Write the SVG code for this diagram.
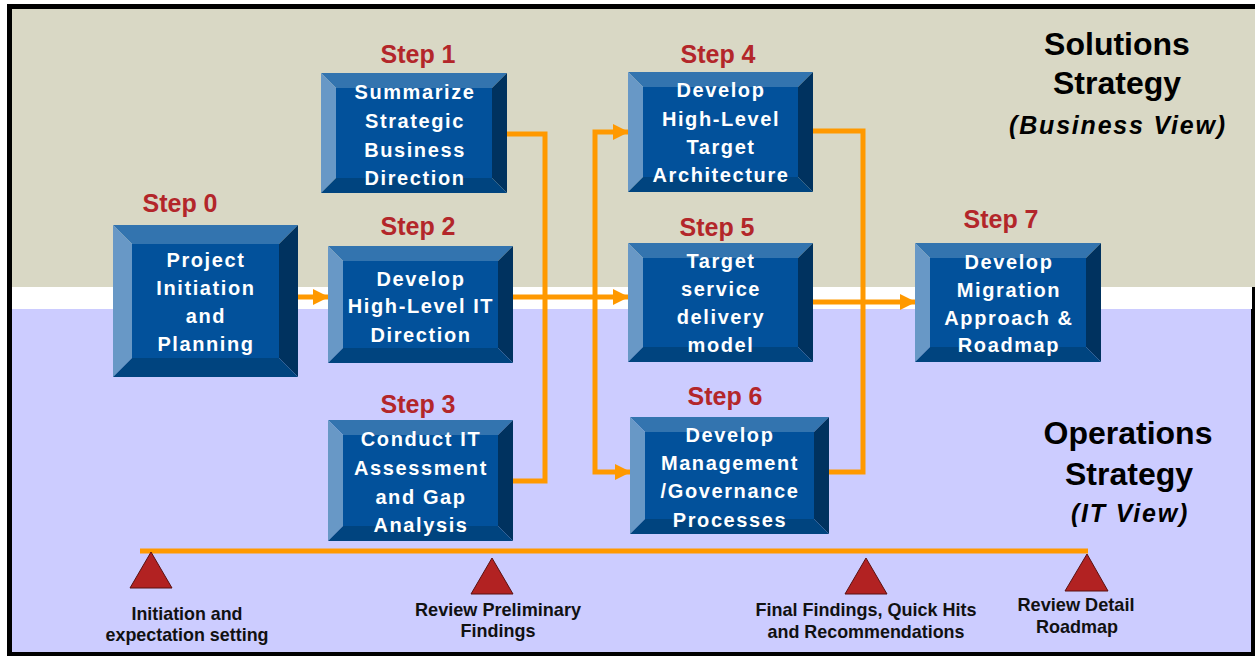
<svg xmlns="http://www.w3.org/2000/svg" width="1255" height="656" viewBox="0 0 1255 656">
<defs>
<style>
.tp{fill:#3374AF}.lf{fill:#6898C6}.rt{fill:#00325F}.bt{fill:#00447F}.fc{fill:#02519B}
.bx{font-family:"Liberation Sans",Arial,sans-serif;font-weight:bold;font-size:20px;fill:#FFFFFF;text-anchor:middle;letter-spacing:1.6px}
.st{font-family:"Liberation Sans",Arial,sans-serif;font-weight:bold;font-size:25px;fill:#B3262A;text-anchor:middle}
.ttl{font-family:"Liberation Sans",Arial,sans-serif;font-weight:bold;font-size:32px;fill:#000;text-anchor:middle}
.sub{font-family:"Liberation Sans",Arial,sans-serif;font-weight:bold;font-style:italic;font-size:25px;fill:#000;text-anchor:middle;letter-spacing:1.8px}
.ms{font-family:"Liberation Sans",Arial,sans-serif;font-weight:bold;font-size:19px;fill:#111;text-anchor:middle}
.cn{fill:none;stroke:#FF9900;stroke-width:5}
.tri{fill:#B22222;stroke:#5A1010;stroke-width:1}
</style>
<marker id="ah" markerUnits="userSpaceOnUse" markerWidth="16" markerHeight="16" viewBox="0 0 16 16" refX="15" refY="8" orient="auto">
<path d="M0,0 L16,8 L0,16 Z" fill="#FF9900"/>
</marker>
</defs>
<g id="background">
<rect x="0" y="0" width="1255" height="656" fill="#FFFFFF"/>
<rect x="7" y="4" width="1248" height="652" fill="#000000"/>
<rect x="12" y="9" width="1243" height="278" fill="#D9D8C5"/>
<rect x="12" y="287" width="1240" height="22" fill="#FFFFFF"/>
<rect x="12" y="309" width="1239" height="343" fill="#CCCCFF"/>
</g>
<g id="labels">
<text class="ttl" x="1117" y="55">Solutions</text>
<text class="ttl" x="1117" y="94">Strategy</text>
<text class="sub" x="1118" y="134">(Business View)</text>
<text class="ttl" x="1128" y="444">Operations</text>
<text class="ttl" x="1129" y="485">Strategy</text>
<text class="sub" x="1130" y="522">(IT View)</text>
</g>
<g id="connectors">
<path class="cn" d="M298,297 H328" marker-end="url(#ah)"/>
<path class="cn" d="M507,134 H545 V481 H513"/>
<path class="cn" d="M513,297 H628" marker-end="url(#ah)"/>
<path class="cn" d="M595,300 V132 H628" marker-end="url(#ah)"/>
<path class="cn" d="M595,300 V472 H630" marker-end="url(#ah)"/>
<path class="cn" d="M813,131 H863 V472 H829"/>
<path class="cn" d="M813,302 H915" marker-end="url(#ah)"/>
</g>
<g id="step0">
<text class="st" x="180" y="212">Step 0</text>
<path class="tp" d="M113,225 H298 L279,244 H132 Z"/>
<path class="lf" d="M113,225 L132,244 V358 L113,377 Z"/>
<path class="rt" d="M298,225 V377 L279,358 V244 Z"/>
<path class="bt" d="M113,377 L132,358 H279 L298,377 Z"/>
<rect class="fc" x="132" y="244" width="147" height="114"/>
<text class="bx" x="206" y="267">Project</text>
<text class="bx" x="206" y="295">Initiation</text>
<text class="bx" x="206" y="323">and</text>
<text class="bx" x="206" y="351">Planning</text>
</g>
<g id="step1">
<text class="st" x="418" y="63">Step 1</text>
<path class="tp" d="M321,73 H507 L492,88 H336 Z"/>
<path class="lf" d="M321,73 L336,88 V178 L321,193 Z"/>
<path class="rt" d="M507,73 V193 L492,178 V88 Z"/>
<path class="bt" d="M321,193 L336,178 H492 L507,193 Z"/>
<rect class="fc" x="336" y="88" width="156" height="90"/>
<text class="bx" x="415" y="99">Summarize</text>
<text class="bx" x="415" y="128">Strategic</text>
<text class="bx" x="415" y="157">Business</text>
<text class="bx" x="415" y="185">Direction</text>
</g>
<g id="step2">
<text class="st" x="418" y="235">Step 2</text>
<path class="tp" d="M328,246 H513 L498,261 H343 Z"/>
<path class="lf" d="M328,246 L343,261 V348 L328,363 Z"/>
<path class="rt" d="M513,246 V363 L498,348 V261 Z"/>
<path class="bt" d="M328,363 L343,348 H498 L513,363 Z"/>
<rect class="fc" x="343" y="261" width="155" height="87"/>
<text class="bx" x="421" y="286">Develop</text>
<text class="bx" x="421" y="313">High-Level IT</text>
<text class="bx" x="421" y="342">Direction</text>
</g>
<g id="step3">
<text class="st" x="418" y="413">Step 3</text>
<path class="tp" d="M328,420 H513 L498,435 H343 Z"/>
<path class="lf" d="M328,420 L343,435 V526 L328,541 Z"/>
<path class="rt" d="M513,420 V541 L498,526 V435 Z"/>
<path class="bt" d="M328,541 L343,526 H498 L513,541 Z"/>
<rect class="fc" x="343" y="435" width="155" height="91"/>
<text class="bx" x="421" y="446">Conduct IT</text>
<text class="bx" x="421" y="475">Assessment</text>
<text class="bx" x="421" y="504">and Gap</text>
<text class="bx" x="421" y="532">Analysis</text>
</g>
<g id="step4">
<text class="st" x="718" y="63">Step 4</text>
<path class="tp" d="M628,72 H813 L798,87 H643 Z"/>
<path class="lf" d="M628,72 L643,87 V177 L628,192 Z"/>
<path class="rt" d="M813,72 V192 L798,177 V87 Z"/>
<path class="bt" d="M628,192 L643,177 H798 L813,192 Z"/>
<rect class="fc" x="643" y="87" width="155" height="90"/>
<text class="bx" x="721" y="97">Develop</text>
<text class="bx" x="721" y="126">High-Level</text>
<text class="bx" x="721" y="154">Target</text>
<text class="bx" x="721" y="182">Architecture</text>
</g>
<g id="step5">
<text class="st" x="717" y="236">Step 5</text>
<path class="tp" d="M628,243 H813 L798,258 H643 Z"/>
<path class="lf" d="M628,243 L643,258 V347 L628,362 Z"/>
<path class="rt" d="M813,243 V362 L798,347 V258 Z"/>
<path class="bt" d="M628,362 L643,347 H798 L813,362 Z"/>
<rect class="fc" x="643" y="258" width="155" height="89"/>
<text class="bx" x="721" y="268">Target</text>
<text class="bx" x="721" y="296">service</text>
<text class="bx" x="721" y="324">delivery</text>
<text class="bx" x="721" y="352">model</text>
</g>
<g id="step6">
<text class="st" x="725" y="405">Step 6</text>
<path class="tp" d="M630,417 H829 L814,432 H645 Z"/>
<path class="lf" d="M630,417 L645,432 V519 L630,534 Z"/>
<path class="rt" d="M829,417 V534 L814,519 V432 Z"/>
<path class="bt" d="M630,534 L645,519 H814 L829,534 Z"/>
<rect class="fc" x="645" y="432" width="169" height="87"/>
<text class="bx" x="730" y="442">Develop</text>
<text class="bx" x="730" y="470">Management</text>
<text class="bx" x="730" y="498">/Governance</text>
<text class="bx" x="730" y="527">Processes</text>
</g>
<g id="step7">
<text class="st" x="1001" y="228">Step 7</text>
<path class="tp" d="M915,243 H1101 L1086,258 H930 Z"/>
<path class="lf" d="M915,243 L930,258 V347 L915,362 Z"/>
<path class="rt" d="M1101,243 V362 L1086,347 V258 Z"/>
<path class="bt" d="M915,362 L930,347 H1086 L1101,362 Z"/>
<rect class="fc" x="930" y="258" width="156" height="89"/>
<text class="bx" x="1009" y="269">Develop</text>
<text class="bx" x="1009" y="297">Migration</text>
<text class="bx" x="1009" y="325">Approach &amp;</text>
<text class="bx" x="1009" y="352">Roadmap</text>
</g>
<g id="timeline">
<line x1="140" y1="551" x2="1088" y2="551" stroke="#FF9900" stroke-width="5"/>
</g>
<g id="milestone1">
<path class="tri" d="M151,552 L172,588 L130,588 Z"/>
<text class="ms" x="187" y="620" textLength="111" lengthAdjust="spacingAndGlyphs">Initiation and</text>
<text class="ms" x="187" y="641" textLength="163" lengthAdjust="spacingAndGlyphs">expectation setting</text>
</g>
<g id="milestone2">
<path class="tri" d="M492,558 L513,594 L471,594 Z"/>
<text class="ms" x="498" y="616" textLength="166" lengthAdjust="spacingAndGlyphs">Review Preliminary</text>
<text class="ms" x="498" y="637" textLength="75" lengthAdjust="spacingAndGlyphs">Findings</text>
</g>
<g id="milestone3">
<path class="tri" d="M866,558 L887,594 L845,594 Z"/>
<text class="ms" x="866" y="616" textLength="221" lengthAdjust="spacingAndGlyphs">Final Findings, Quick Hits</text>
<text class="ms" x="866" y="638" textLength="197" lengthAdjust="spacingAndGlyphs">and Recommendations</text>
</g>
<g id="milestone4">
<path class="tri" d="M1087,554 L1108,591 L1065,591 Z"/>
<text class="ms" x="1076" y="611" textLength="117" lengthAdjust="spacingAndGlyphs">Review Detail</text>
<text class="ms" x="1077" y="633" textLength="82" lengthAdjust="spacingAndGlyphs">Roadmap</text>
</g>
</svg>
